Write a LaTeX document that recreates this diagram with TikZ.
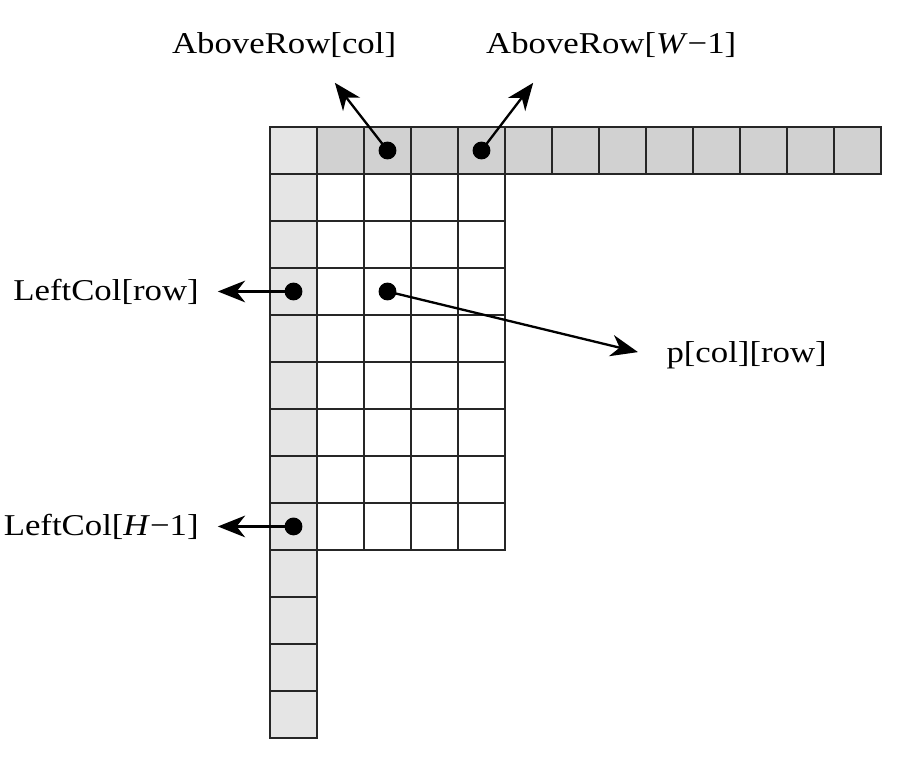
\documentclass[tikz,border=0pt]{standalone}
\usepackage{fontspec}
\setmainfont{Liberation Serif}[FakeStretch=1.15]
\usetikzlibrary{arrows.meta,positioning}

\begin{document}
\begin{tikzpicture}[
  x=1cm, y=-1cm,
  cornercell/.style={draw=black!85, line width=1.4pt, fill=black!10},
  rowcell/.style={draw=black!85, line width=1.4pt, fill=black!18},
  pixcell/.style={draw=black!85, line width=1.4pt, fill=white},
  pin/.style={circle, fill=black, inner sep=0pt, minimum size=3.8mm},
  tag/.style={font=\fontsize{18.3}{22}\selectfont, inner sep=0pt},
  arrow/.style={-{Stealth[length=5.8mm, width=4.6mm, inset=1.8mm]}, line width=1.4pt},
  node distance=4mm
]
  \useasboundingbox (-5.745,-2.702) rectangle (13.49,13.468);

  % reference row above and column to the left
  \foreach \i in {1,...,12} \draw[rowcell] (\i,0) rectangle ++(1,1);
  \draw[cornercell] (0,0) rectangle (1,1);
  \foreach \j in {1,...,12} \draw[cornercell] (0,\j) rectangle ++(1,1);
  % current block
  \foreach \i in {1,...,4}
    \foreach \j in {1,...,8} \draw[pixcell] (\i,\j) rectangle ++(1,1);

  \node[pin] (acol) at (2.5,0.5) {};
  \node[pin] (alast) at (4.5,0.5) {};
  \node[pin] (lrow) at (0.5,3.5) {};
  \node[pin] (llast) at (0.5,8.5) {};
  \node[pin] (pix) at (2.5,3.5) {};

  \coordinate (acoltip) at (1.38,-0.94);
  \coordinate (alasttip) at (5.60,-0.94);
  \coordinate (lrowtip) at (-1.11,3.5);
  \coordinate (llasttip) at (-1.11,8.5);
  \coordinate (pixtip) at (7.83,4.79);

  \draw[arrow] (acol.center) -- (acoltip);
  \draw[arrow] (alast.center) -- (alasttip);
  \draw[arrow] (lrow.center) -- (lrowtip);
  \draw[arrow] (llast.center) -- (llasttip);
  \draw[arrow] (pix.center) -- (pixtip);

  \node[tag] (acolname) at (0.30,-1.74) {AboveRow[col]};
  \node[tag] (alastname) at (7.26,-1.74) {AboveRow[\textit{W}−1]};
  \node[tag, left=of lrowtip] (lrowname) {LeftCol[row]};
  \node[tag, left=of llasttip] (llastname) {LeftCol[\textit{H}−1]};
  \node[tag, right=6mm of pixtip, yshift=-0.6mm] (pixname) {p[col][row]};
\end{tikzpicture}
\end{document}
